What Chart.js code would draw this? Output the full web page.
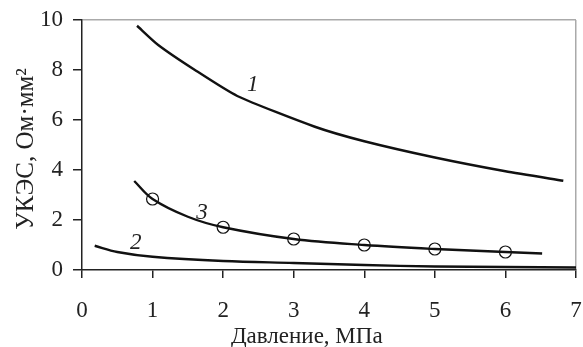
<!DOCTYPE html>
<html>
<head>
<meta charset="utf-8">
<script src="https://cdn.jsdelivr.net/npm/chart.js@4.4.0/dist/chart.umd.min.js"></script>
<style>
  html, body { margin: 0; padding: 0; background: #fff; }
  #wrap { width: 583px; height: 347px; }
</style>
</head>
<body>
<div id="wrap"><canvas id="chart" width="583" height="347"></canvas></div>
<script>
// curve 1
const p1 = [0.78, 1.08, 1.6, 2.2, 3.3, 4, 5, 6, 6.82];
const y1 = [9.77, 9.0, 8.0, 6.96, 5.73, 5.15, 4.5, 3.95, 3.57];
// curve 2
const p2 = [0.18, 0.5, 1, 2, 3, 4, 5, 6, 7];
const y2 = [0.97, 0.72, 0.53, 0.36, 0.28, 0.2, 0.14, 0.12, 0.1];
// curve 3 (markers at whole MPa)
const p3 = [0.74, 1, 1.5, 2, 3, 4, 5, 6, 6.52];
const y3 = [3.56, 2.84, 2.13, 1.71, 1.24, 1.0, 0.84, 0.72, 0.66];
const markersAt = [1, 2, 3, 4, 5, 6];

const xTicks = [0, 1, 2, 3, 4, 5, 6, 7];
const yTicks = [0, 2, 4, 6, 8, 10];

const xTitle = 'Давление, МПа';
const yTitle = 'УКЭС, Ом·мм²';

// curve labels: text, x, y (data units)
const curveLabels = [
    ['1', 2.42, 7.4],
    ['2', 0.76, 1.1],
    ['3', 1.7, 2.3]
];

const zip = (xs, ys) => xs.map((x, i) => ({ x: x, y: ys[i] }));
const font = 'Liberation Serif';
const ink = '#222';

// curve numbers + axis titles (titles sit a bit off-centre in the original)
const labelPlugin = {
    id: 'curveLabels',
    afterDatasetsDraw(chart) {
        const ctx = chart.ctx;
        const xs = chart.scales.x, ys = chart.scales.y;
        const a = chart.chartArea;
        ctx.save();
        ctx.font = 'italic 23px "' + font + '"';
        ctx.fillStyle = ink;
        ctx.textAlign = 'center';
        ctx.textBaseline = 'middle';
        curveLabels.forEach(l => {
            ctx.fillText(l[0], xs.getPixelForValue(l[1]), ys.getPixelForValue(l[2]));
        });

        ctx.font = '23px "' + font + '"';
        ctx.textBaseline = 'alphabetic';
        ctx.fillText(xTitle, a.left + (a.right - a.left) * 0.455, chart.height - 4);

        ctx.font = '25px "' + font + '"';
        ctx.translate(33, a.top + (a.bottom - a.top) * 0.516);
        ctx.rotate(-Math.PI / 2);
        ctx.fillText(yTitle, 0, 0);
        ctx.restore();
    }
};

const lineStyle = {
    showLine: true,
    borderColor: '#111',
    borderWidth: 2.4,
    tension: 0.2,
    pointRadius: 0,
    fill: false
};

new Chart(document.getElementById('chart'), {
    type: 'scatter',
    data: {
        datasets: [
            Object.assign({ label: '1', data: zip(p1, y1) }, lineStyle),
            Object.assign({ label: '2', data: zip(p2, y2) }, lineStyle, { tension: 0.35 }),
            Object.assign({ label: '3', data: zip(p3, y3) }, lineStyle, {
                tension: 0.35,
                pointRadius: c => markersAt.includes(c.raw && c.raw.x) ? 6 : 0,
                pointBorderColor: '#111',
                pointBorderWidth: 1.2,
                pointBackgroundColor: 'rgba(0,0,0,0)'
            })
        ]
    },
    options: {
        responsive: false,
        animation: false,
        layout: { padding: { top: 20, right: 7, left: 0, bottom: 0 } },
        plugins: { legend: { display: false }, tooltip: { enabled: false } },
        scales: {
            x: {
                type: 'linear', min: 0, max: 7,
                afterFit: s => { s.height = 77; s.paddingLeft = 0; s.paddingRight = 0; },
                afterBuildTicks: s => { s.ticks = xTicks.map(v => ({ value: v })); },
                grid: {
                    color: c => c.tick && c.tick.value === 7 ? '#aaa' : 'rgba(0,0,0,0)',
                    tickColor: '#222', tickLength: 8, lineWidth: 1.5
                },
                border: { color: '#222', width: 1.5 },
                ticks: { color: ink, font: { family: font, size: 23 }, padding: 19, maxRotation: 0 }
            },
            y: {
                min: 0, max: 10,
                afterFit: s => { s.width = 82; s.paddingTop = 0; s.paddingBottom = 0; },
                afterBuildTicks: s => { s.ticks = yTicks.map(v => ({ value: v })); },
                grid: {
                    color: c => c.tick && c.tick.value === 10 ? '#aaa' : 'rgba(0,0,0,0)',
                    tickColor: '#222', tickLength: 9, lineWidth: 1.5
                },
                border: { color: '#222', width: 1.5 },
                ticks: { color: ink, font: { family: font, size: 23 }, padding: 10 }
            }
        }
    },
    plugins: [labelPlugin]
});
</script>
</body>
</html>
